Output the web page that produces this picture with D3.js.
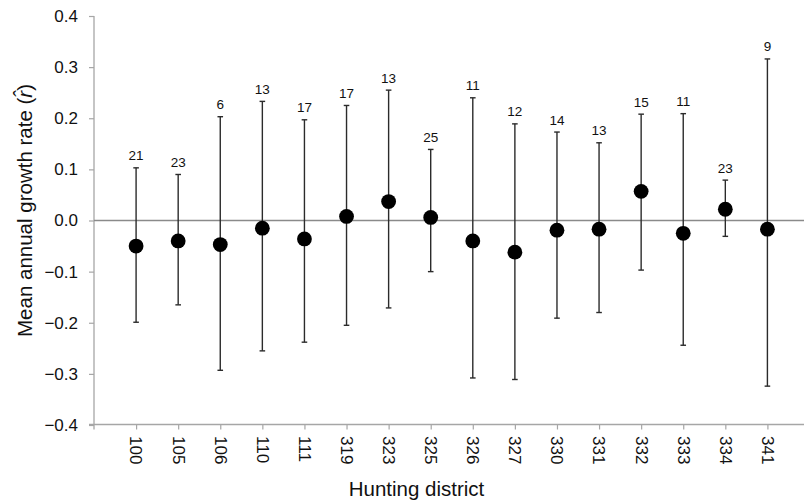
<!DOCTYPE html>
<html>
<head>
<meta charset="utf-8">
<script src="https://cdn.jsdelivr.net/npm/d3@7"></script>
<style>
  html, body { margin: 0; padding: 0; background: #fff; }
  svg { display: block; font-family: "Liberation Sans", Arial, sans-serif; }
</style>
</head>
<body>
<svg id="chart" width="804" height="502"></svg>
<script>
// Hunting districts and their mean annual growth rate with interval bounds
const districts = ["100","105","106","110","111","319","323","325","326","327","330","331","332","333","334","341"];
const means = [-0.050,-0.040,-0.047,-0.015,-0.036,0.008,0.037,0.006,-0.040,-0.062,-0.019,-0.017,0.057,-0.025,0.022,-0.017];
const upper = [0.103,0.090,0.203,0.233,0.197,0.225,0.255,0.139,0.240,0.189,0.173,0.152,0.208,0.209,0.079,0.316];
const lower = [-0.199,-0.165,-0.293,-0.255,-0.238,-0.205,-0.171,-0.100,-0.308,-0.311,-0.191,-0.180,-0.097,-0.244,-0.031,-0.324];
const counts = [21,23,6,13,17,17,13,25,11,12,14,13,15,11,23,9];
const yTicks = [-0.4,-0.3,-0.2,-0.1,0.0,0.1,0.2,0.3,0.4];

const svg = d3.select("#chart");
const W = 804;

// Positions 1..16 hold the districts, with one empty slot at each end
const x = d3.scaleLinear().domain([0, districts.length + 1]).range([94, 809.5]);
const y = d3.scaleLinear().domain([-0.4, 0.4]).range([425, 16]);

const axisColor = "#a6a6a6";

// Y axis
const yAxis = svg.append("g")
  .attr("transform", `translate(${x(0)},0)`)
  .call(d3.axisLeft(y).tickValues(yTicks).tickFormat(d3.format(".1f"))
    .tickSize(5).tickPadding(11).tickSizeOuter(0));
yAxis.select(".domain").remove();
yAxis.selectAll(".tick line").attr("stroke", axisColor).attr("stroke-width", 1.2);
yAxis.selectAll(".tick text").attr("fill", "#111").style("font-size", "17px")
  .style("font-family", "'Liberation Sans', Arial, sans-serif");
svg.append("line")
  .attr("x1", x(0)).attr("x2", x(0))
  .attr("y1", y(0.4)).attr("y2", y(-0.4) + 4.5)
  .attr("stroke", axisColor).attr("stroke-width", 1.3);

// X axis with rotated district labels
const xAxis = svg.append("g")
  .attr("transform", `translate(0,${y(-0.4) - 0.5})`)
  .call(d3.axisBottom(x).tickValues(d3.range(1, districts.length + 1))
    .tickFormat(i => districts[i - 1]).tickSize(5).tickSizeOuter(0));
xAxis.select(".domain").remove();
xAxis.selectAll(".tick line").attr("stroke", axisColor).attr("stroke-width", 1.2);
xAxis.selectAll(".tick text")
  .attr("fill", "#111").style("font-size", "17px")
  .style("font-family", "'Liberation Sans', Arial, sans-serif")
  .attr("transform", "rotate(90)")
  .attr("text-anchor", "start")
  .attr("x", 11.5).attr("y", 0).attr("dy", "0.36em");
svg.append("line")
  .attr("x1", x(0) - 5).attr("x2", W)
  .attr("y1", y(-0.4) - 0.5).attr("y2", y(-0.4) - 0.5)
  .attr("stroke", axisColor).attr("stroke-width", 1.3);

// Zero reference line
svg.append("line")
  .attr("x1", x(0)).attr("x2", W)
  .attr("y1", y(0)).attr("y2", y(0))
  .attr("stroke", "#8a8a8a").attr("stroke-width", 1.3);

// Error bars, caps, points and sample sizes
const rows = districts.map((d, i) => ({ i: i + 1, m: means[i], lo: lower[i], hi: upper[i], n: counts[i] }));
const g = svg.append("g");
const capW = 2.8;
const barColor = "#2b2b2b";

g.selectAll("line.bar").data(rows).join("line")
  .attr("class", "bar")
  .attr("x1", d => x(d.i)).attr("x2", d => x(d.i))
  .attr("y1", d => y(d.hi)).attr("y2", d => y(d.lo))
  .attr("stroke", barColor).attr("stroke-width", 1.4);
g.selectAll("line.capHi").data(rows).join("line")
  .attr("class", "capHi")
  .attr("x1", d => x(d.i) - capW).attr("x2", d => x(d.i) + capW)
  .attr("y1", d => y(d.hi)).attr("y2", d => y(d.hi))
  .attr("stroke", barColor).attr("stroke-width", 1.4);
g.selectAll("line.capLo").data(rows).join("line")
  .attr("class", "capLo")
  .attr("x1", d => x(d.i) - capW).attr("x2", d => x(d.i) + capW)
  .attr("y1", d => y(d.lo)).attr("y2", d => y(d.lo))
  .attr("stroke", barColor).attr("stroke-width", 1.4);
g.selectAll("circle").data(rows).join("circle")
  .attr("cx", d => x(d.i)).attr("cy", d => y(d.m))
  .attr("r", 7.4).attr("fill", "#000");
g.selectAll("text.n").data(rows).join("text")
  .attr("class", "n")
  .attr("x", d => x(d.i)).attr("y", d => y(d.hi) - 7.5)
  .attr("text-anchor", "middle")
  .attr("fill", "#111").style("font-size", "13.5px")
  .text(d => d.n);

// Axis titles
svg.append("text")
  .attr("x", 416.5).attr("y", 496)
  .attr("text-anchor", "middle")
  .attr("fill", "#111").style("font-size", "20.5px")
  .text("Hunting district");

const yt = svg.append("text")
  .attr("transform", "translate(32,210.5) rotate(-90)")
  .attr("text-anchor", "middle")
  .attr("fill", "#111").style("font-size", "20.5px");
yt.append("tspan").text("Mean annual growth rate (");
yt.append("tspan").style("font-style", "italic").text("r\u0302");
yt.append("tspan").text(")");
</script>
</body>
</html>
